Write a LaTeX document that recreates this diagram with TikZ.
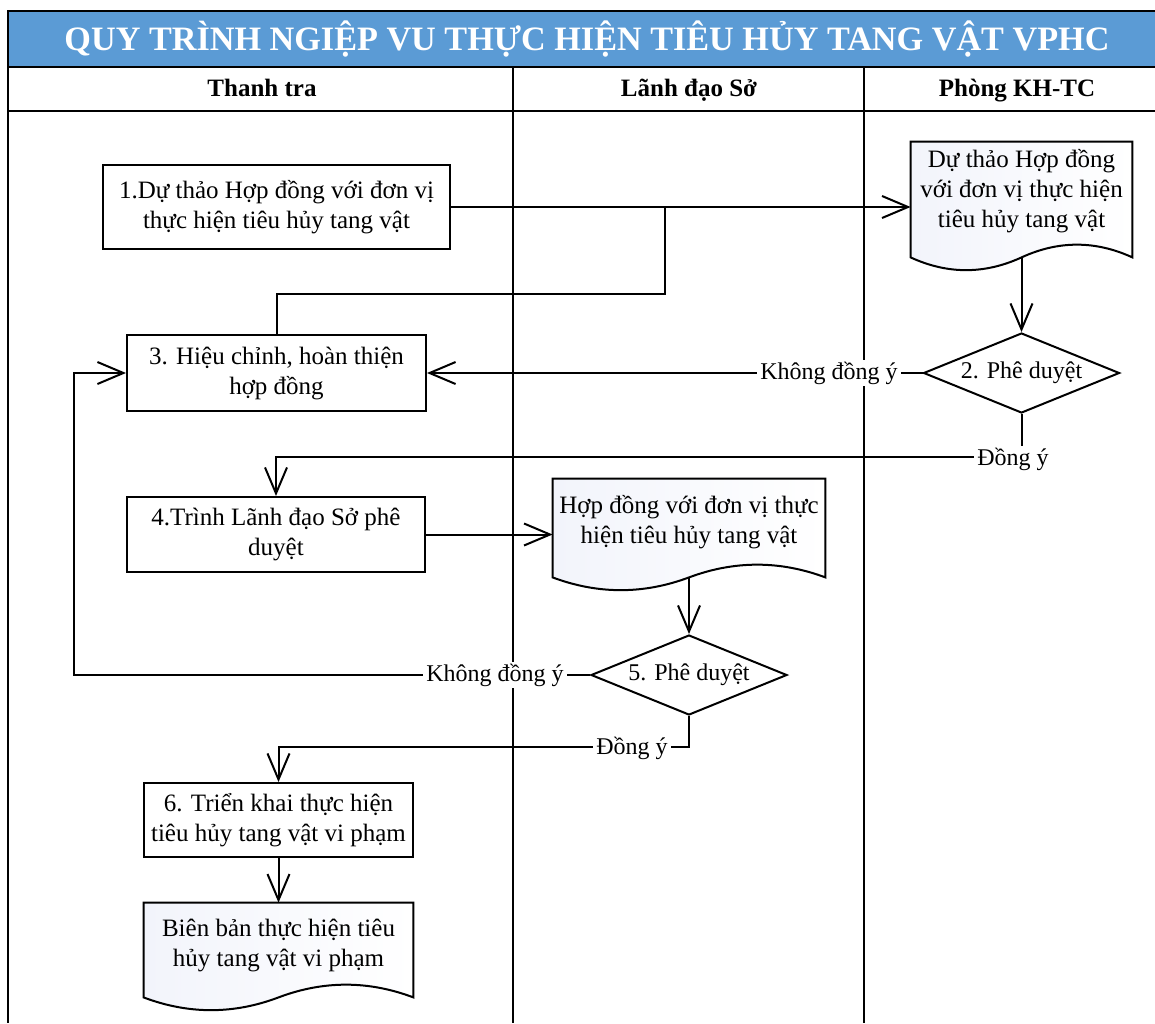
\documentclass[tikz,border=0pt]{standalone}
\usepackage{fontspec}
\setmainfont{Liberation Serif}
\usetikzlibrary{arrows.meta,shapes.geometric,calc}

\definecolor{titleblue}{HTML}{5B9BD5}
\definecolor{docshade}{RGB}{242,244,251}
\newcommand\bodyfont{\fontsize{12.5}{15}\selectfont}
\newcommand\smallbody{\fontsize{12}{15}\selectfont}

% document symbol: flat top, wavy bottom (trough on the left, crest on the right)
\newcommand\docoutline[1]{%
  \path[docpaper] (#1.north west) -- (#1.north east) -- (#1.south east)
    .. controls ($(#1.south east)!0.3333!(#1.south)+(0,-17)$) and ($(#1.south east)!0.6667!(#1.south)+(0,-17)$) .. (#1.south)
    .. controls ($(#1.south)!0.3333!(#1.south west)+(0,17)$) and ($(#1.south)!0.6667!(#1.south west)+(0,17)$) .. (#1.south west)
    -- cycle;}

\begin{document}
\begin{tikzpicture}[x=0.5pt,y=-0.5pt,
  frame/.style={line width=1.2pt},
  lane/.style={line width=1pt},
  titletext/.style={text=white, font=\fontsize{17.1}{20}\selectfont\bfseries, inner sep=0pt},
  headtext/.style={font=\fontsize{12.5}{15}\selectfont\bfseries, inner sep=0pt,
                   text height=8.5pt, text depth=3pt},
  proc/.style={draw, line width=1pt, fill=white, align=center, font=\bodyfont, inner sep=0pt},
  decide/.style={draw, diamond, aspect=2.4, line width=1pt, fill=white, inner sep=0pt,
                 minimum width=98pt, minimum height=40pt, font=\smallbody},
  docframe/.style={draw=none, inner sep=0pt},
  docpaper/.style={draw, line width=1pt, left color=docshade, right color=white},
  doctext/.style={align=center, font=\bodyfont, inner sep=0pt},
  link/.style={line width=1pt},
  flow/.style={line width=1pt, -{Straight Barb[length=13pt,width=11pt,line width=1pt]}},
  lbl/.style={fill=white, font=\smallbody, inner xsep=1.5pt, inner ysep=1pt}
]
\useasboundingbox (0,0) rectangle (1155,1023);

% title bar and lane headers
\fill[titleblue] (8,11) rectangle (1155,67);
\draw[frame] (1155,11) -- (8,11) -- (8,1023);
\draw[frame] (8,67) -- (1155,67);
\draw[frame] (8,111) -- (1155,111);
\node[titletext] (title) at (587,39) {QUY TRÌNH NGIỆP VU THỰC HIỆN TIÊU HỦY TANG VẬT VPHC};
\node[headtext] (h1) at (262,91) {Thanh tra};
\node[headtext] (h2) at (689,91) {Lãnh đạo Sở};
\node[headtext] (h3) at (1017,91) {Phòng KH-TC};
\draw[lane] (513,67) -- (513,1023);
\draw[lane] (864,67) -- (864,1023);

% documents
\node[docframe, minimum width=110.5pt, minimum height=57.5pt] (d1) at (1021.5,199.5) {};
\node[docframe, minimum width=136pt, minimum height=49pt] (d2) at (689,528) {};
\node[docframe, minimum width=134.5pt, minimum height=47pt] (d3) at (278.5,950) {};
\docoutline{d1}
\docoutline{d2}
\docoutline{d3}
\node[doctext] (d1t) at (1021.5,191) {Dự thảo Hợp đồng\\với đơn vị thực hiện\\tiêu hủy tang vật};
\node[doctext] (d2t) at (689,522.5) {Hợp đồng với đơn vị thực\\hiện tiêu hủy tang vật};
\node[doctext] (d3t) at (278.5,945) {Biên bản thực hiện tiêu\\hủy tang vật vi phạm};

% process steps
\node[proc, minimum width=173.5pt, minimum height=42pt] (b1) at (276.5,207)
  {1.Dự thảo Hợp đồng với đơn vị\\thực hiện tiêu hủy tang vật};
\node[proc, minimum width=149.5pt, minimum height=38pt] (b3) at (276.5,373)
  {3. Hiệu chỉnh, hoàn thiện\\hợp đồng};
\node[proc, minimum width=149pt, minimum height=37.5pt] (b4) at (276,534.5)
  {4.Trình Lãnh đạo Sở phê\\duyệt};
\node[proc, minimum width=134.5pt, minimum height=37pt] (b6) at (278.5,820)
  {6. Triển khai thực hiện\\tiêu hủy tang vật vi phạm};

% decisions
\node[decide] (q2) at (1021.5,373) {2. Phê duyệt};
\node[decide] (q5) at (689,675) {5. Phê duyệt};

% routing points
\coordinate (j1) at (665,207);
\coordinate (j2) at (276.5,294);
\coordinate (c1) at (276,457);
\coordinate (c2) at (74,675);
\coordinate (c3) at (278.5,747);

% connectors
\draw[flow] (b1.east) -- (b1.east -| d1.west);
\draw[link] (j1) |- (j2) -- (b3.north);
\draw[flow] (d1.south) -- (q2.north);
\draw[flow] (q2.west) -- (b3.east);
\draw[flow] (q2.south) |- (c1) -- (b4.north);
\draw[flow] (b4.east) -- (b4.east -| d2.west);
\draw[flow] (d2.south) -- (q5.north);
\draw[flow] (q5.west) -- (c2) |- (b3.west);
\draw[flow] (q5.south) |- (c3) -- (b6.north);
\draw[flow] (b6.south) -- (d3.north);

% branch labels
\node[lbl] (l1) at (829,373) {Không đồng ý};
\node[lbl] (l2) at (1013,459) {Đồng ý};
\node[lbl] (l3) at (495,675) {Không đồng ý};
\node[lbl] (l4) at (632,748) {Đồng ý};
\end{tikzpicture}
\end{document}
